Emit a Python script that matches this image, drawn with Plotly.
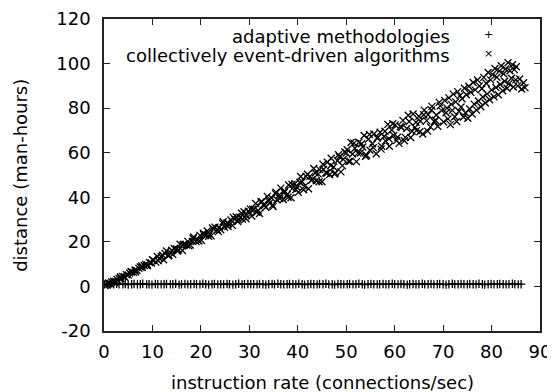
import plotly.graph_objects as go

# ---- series 1: "adaptive methodologies" (+ markers, flat near y=1)
adaptive_x = [
    0.1, 0.8, 1.3, 2.0, 2.6, 3.1, 3.9, 4.4, 5.0, 5.7,
    6.2, 6.9, 7.5, 8.0, 8.8, 9.3, 9.9, 10.6, 11.1, 11.8,
    12.4, 12.9, 13.7, 14.2, 14.8, 15.5, 16.0, 16.7, 17.3, 17.9,
    18.6, 19.1, 19.8, 20.4, 21.0, 21.6, 22.3, 22.8, 23.5, 24.1,
    24.7, 25.4, 25.9, 26.6, 27.2, 27.8, 28.5, 29.0, 29.7, 30.3,
    30.9, 31.6, 32.1, 32.8, 33.4, 34.0, 34.7, 35.2, 35.9, 36.5,
    37.1, 37.8, 38.3, 39.0, 39.6, 40.2, 40.9, 41.4, 42.1, 42.7,
    43.3, 44.0, 44.5, 45.2, 45.8, 46.4, 47.1, 47.6, 48.3, 48.9,
    49.5, 50.2, 50.7, 51.4, 52.0, 52.6, 53.3, 53.8, 54.5, 55.1,
    55.7, 56.4, 56.9, 57.6, 58.2, 58.8, 59.5, 60.0, 60.7, 61.3,
    61.9, 62.6, 63.1, 63.8, 64.4, 65.0, 65.7, 66.2, 66.9, 67.5,
    68.1, 68.8, 69.3, 70.0, 70.6, 71.2, 71.9, 72.4, 73.1, 73.7,
    74.3, 75.0, 75.5, 76.2, 76.8, 77.4, 78.1, 78.6, 79.3, 79.9,
    80.5, 81.2, 81.7, 82.4, 83.0, 83.6, 84.3, 84.8, 85.5, 86.1,
]
adaptive_y = [
    0.9, 1.1, 0.8, 1.0, 1.2, 0.9, 1.0, 1.1, 0.8, 1.0,
    1.1, 0.9, 1.0, 1.2, 0.9, 1.0, 0.8, 1.1, 1.0, 0.9,
    1.0, 1.1, 0.9, 1.0, 1.2, 0.8, 1.0, 1.1, 0.9, 1.0,
    1.1, 1.0, 0.9, 1.2, 1.0, 0.8, 1.0, 1.1, 0.9, 1.0,
    0.9, 1.1, 1.0, 0.8, 1.0, 1.2, 0.9, 1.0, 1.1, 1.0,
    1.0, 0.9, 1.1, 1.0, 0.8, 1.0, 1.1, 0.9, 1.2, 1.0,
    0.9, 1.0, 1.1, 1.0, 0.9, 1.2, 1.0, 0.8, 1.0, 1.1,
    1.0, 0.9, 1.1, 1.0, 1.2, 0.9, 1.0, 0.8, 1.1, 1.0,
    0.9, 1.0, 1.1, 0.9, 1.0, 1.2, 1.0, 0.8, 1.0, 1.1,
    1.0, 0.9, 1.0, 1.1, 0.9, 1.0, 1.2, 1.0, 0.9, 1.1,
    1.0, 0.8, 1.0, 1.1, 0.9, 1.0, 1.2, 0.9, 1.0, 1.1,
    0.9, 1.0, 1.1, 1.0, 0.8, 1.0, 1.2, 0.9, 1.0, 1.1,
    1.0, 0.9, 1.1, 1.0, 0.9, 1.2, 1.0, 0.8, 1.0, 1.1,
    0.9, 1.0, 1.1, 1.0, 0.9, 1.0, 1.2, 1.0, 0.9, 1.0,
]

# ---- series 2: "collectively event-driven algorithms" (x markers)
event_x = [
    # 0 - 10
    0.2, 0.5, 0.9, 1.3, 1.6, 2.0, 2.4, 2.7, 3.1, 3.5, 3.8, 4.2, 4.6, 5.0,
    5.3, 5.7, 6.1, 6.4, 6.8, 7.2, 7.5, 7.9, 8.3, 8.6, 9.0, 9.4, 9.8,
    # 10 - 30
    10.2, 10.7, 11.0, 11.5, 11.8, 12.3, 12.6, 12.9, 13.4, 13.7, 14.2, 14.5,
    15.0, 15.4, 15.7, 16.2, 16.5, 17.0, 17.3, 17.8, 18.2, 18.5, 19.0, 19.3,
    19.8, 20.1, 20.6, 21.0, 21.3, 21.8, 22.1, 22.6, 22.9, 23.4, 23.8, 24.1,
    24.6, 24.9, 25.4, 25.7, 26.2, 26.5, 27.0, 27.3, 27.8, 28.1, 28.6, 28.9,
    29.4, 29.8,
    1.0, 2.1, 3.4, 4.3, 5.6, 6.5, 7.8, 8.9, 10.0, 11.2, 12.1, 13.3, 14.0,
    15.2, 16.3, 17.5, 18.4, 19.6, 20.5, 21.6, 22.4, 23.6, 24.5, 25.6, 26.7,
    27.6, 28.4, 29.3,
    # 30 - 50
    30.2, 30.5, 31.0, 31.3, 31.8, 32.1, 32.6, 32.9, 33.4, 33.7, 34.2, 34.6,
    34.9, 35.4, 35.7, 36.2, 36.5, 37.0, 37.3, 37.8, 38.1, 38.6, 38.9, 39.4,
    39.8, 40.1, 40.6, 40.9, 41.4, 41.7, 42.2, 42.5, 43.0, 43.3, 43.8, 44.2,
    44.5, 45.0, 45.3, 45.8, 46.1, 46.6, 46.9, 47.4, 47.7, 48.2, 48.6, 48.9,
    49.4, 49.7,
    # 50 - 70
    50.2, 50.5, 51.0, 51.3, 51.8, 52.1, 52.6, 52.9, 53.4, 53.7, 54.2, 54.6,
    54.9, 55.4, 55.7, 56.2, 56.5, 57.0, 57.3, 57.8, 58.1, 58.6, 58.9, 59.4,
    59.8, 60.1, 60.6, 60.9, 61.4, 61.7, 62.2, 62.5, 63.0, 63.3, 63.8, 64.2,
    64.5, 65.0, 65.3, 65.8, 66.1, 66.6, 66.9, 67.4, 67.7, 68.2, 68.6, 68.9,
    69.4, 69.7,
    30.7, 31.5, 32.4, 33.1, 34.0, 34.8, 35.5, 36.3, 37.2, 38.0,
    38.8, 39.6, 40.4, 41.2, 42.0, 42.8, 43.6, 44.4, 45.2, 46.0,
    46.8, 47.6, 48.4, 49.2, 50.0, 50.8, 51.6, 52.4, 53.2, 54.0,
    54.8, 55.6, 56.4, 57.2, 58.0, 58.8, 59.6, 60.4, 61.2, 62.0,
    62.8, 63.6, 64.4, 65.2, 66.0, 66.8, 67.6, 68.4, 69.2,
    # 70 - 87 (upper part of the cloud)
    70.3, 70.8, 71.2, 71.7, 72.1, 72.6, 73.0, 73.5, 73.9, 74.4, 74.8, 75.3,
    75.7, 76.2, 76.6, 77.1, 77.5, 78.0, 78.4, 78.9, 79.3, 79.8, 80.2, 80.7,
    81.1, 81.6, 82.0, 82.5, 82.9, 83.4, 83.8, 84.3, 84.7, 85.1,
    # 70 - 87 (lower part of the cloud)
    70.1, 70.6, 71.0, 71.5, 71.9, 72.4, 72.8, 73.3, 73.7, 74.2, 74.6, 75.1,
    75.5, 76.0, 76.4, 76.9, 77.3, 77.8, 78.2, 78.7, 79.1, 79.6, 80.0, 80.5,
    80.9, 81.4, 81.8, 82.3, 82.7, 83.2, 83.6, 84.1, 84.5, 85.0, 85.4, 85.8,
    86.2, 86.6, 86.9,
]
event_y = [
    # 0 - 10
    0.4, 0.9, 1.2, 1.1, 2.0, 2.3, 2.2, 3.1, 3.6, 3.4, 4.5, 4.4, 5.3, 5.1,
    6.0, 6.5, 6.3, 7.4, 7.2, 8.1, 8.7, 8.5, 9.4, 9.9, 9.6, 10.7, 10.5,
    # 10 - 30
    11.8, 10.9, 13.4, 12.5, 13.4, 12.0, 14.8, 15.9, 14.0, 15.2, 14.4, 17.0,
    16.8, 16.4, 18.9, 16.1, 18.9, 18.6, 20.2, 18.6, 20.2, 22.2, 20.1, 20.9,
    22.9, 20.7, 23.2, 23.1, 24.9, 23.4, 22.7, 25.7, 26.6, 25.3, 26.5, 25.4,
    29.0, 26.5, 28.5, 28.1, 29.8, 27.4, 30.1, 31.3, 29.9, 31.0, 30.2, 33.5,
    31.8, 33.7,
    1.6, 1.7, 4.2, 4.1, 6.7, 6.6, 9.2, 9.3, 11.9, 11.5, 14.0, 13.8, 16.2,
    15.9, 18.6, 18.2, 21.5, 20.4, 23.9, 22.5, 26.2, 24.6, 28.3, 26.9, 31.0,
    29.1, 32.8, 30.4,
    # 30 - 50
    34.7, 31.6, 34.6, 37.2, 34.1, 32.7, 38.0, 36.7, 35.5, 40.4, 37.5, 39.7,
    35.8, 41.7, 38.9, 41.1, 44.1, 39.0, 42.8, 41.1, 45.5, 39.8, 44.0, 46.1,
    44.6, 42.2, 49.3, 47.0, 44.9, 49.4, 43.8, 49.4, 48.0, 52.9, 47.4, 50.5,
    52.4, 47.0, 52.5, 51.0, 55.7, 50.2, 57.5, 53.6, 50.9, 56.4, 58.2, 51.4,
    57.1, 60.3,
    # 50 - 70
    61.3, 56.1, 64.6, 59.4, 62.0, 56.0, 64.7, 59.9, 62.6, 67.7, 58.9, 66.1,
    61.1, 64.0, 68.4, 59.5, 67.0, 69.2, 62.9, 67.3, 65.3, 72.7, 62.9, 70.2,
    67.7, 72.5, 67.0, 64.2, 71.3, 74.5, 66.9, 70.9, 74.0, 66.8, 77.4, 71.3,
    69.9, 76.4, 74.1, 68.4, 79.1, 74.4, 77.0, 71.6, 80.8, 73.9, 76.9, 71.9,
    81.0, 78.9,
    34.6, 33.3, 38.0, 36.3, 38.8, 36.5, 42.3, 39.4, 42.1, 40.0,
    45.8, 43.5, 46.7, 43.4, 50.3, 47.6, 50.9, 47.0, 54.8, 50.8,
    54.3, 50.4, 59.1, 54.2, 59.9, 56.2, 64.3, 59.8, 64.0, 58.4,
    68.2, 62.3, 66.5, 61.6, 69.6, 66.3, 73.0, 65.5, 71.8, 65.4,
    76.8, 69.6, 73.7, 69.4, 77.0, 69.7, 79.2, 74.6, 82.6,
    # 70 - 87 (upper)
    83.5, 80.1, 84.6, 81.7, 86.3, 82.8, 87.4, 85.6, 84.2, 88.9, 86.0, 89.8,
    87.1, 91.5, 88.2, 92.6, 90.0, 88.7, 93.8, 91.2, 96.0, 92.7, 95.1, 97.8,
    93.9, 96.6, 99.0, 95.4, 97.6, 100.4, 96.8, 99.5, 97.3, 98.6,
    # 70 - 87 (lower)
    73.8, 77.9, 75.2, 72.6, 79.0, 76.1, 74.0, 78.6, 80.5, 76.0, 77.9, 75.5,
    79.6, 77.4, 81.8, 79.1, 83.2, 80.6, 85.0, 82.3, 86.4, 83.8, 88.2, 85.1,
    89.3, 86.0, 90.6, 87.8, 92.1, 88.9, 91.0, 93.4, 89.5, 92.7, 90.0, 93.1,
    88.6, 91.4, 89.2,
]

series_names = ["adaptive methodologies", "collectively event-driven algorithms"]
x_ticks = [0, 10, 20, 30, 40, 50, 60, 70, 80, 90]
x_tick_text = ["0", "10", "20", "30", "40", "50", "60", "70", "80", "90"]
y_ticks = [-20, 0, 20, 40, 60, 80, 100, 120]
y_tick_text = ["-20", "0", "20", "40", "60", "80", "100", "120"]
x_title = "instruction rate (connections/sec)"
y_title = "distance (man-hours)"

FONT = "DejaVu Sans"
FS = 18
INK = "#000000"
AXC = "#222222"

fig = go.Figure()
fig.add_trace(go.Scatter(
    x=adaptive_x, y=adaptive_y, mode="markers", name=series_names[0],
    marker=dict(symbol="cross-thin", size=6, line=dict(width=1.3, color=INK), color=INK),
    showlegend=False,
))
fig.add_trace(go.Scatter(
    x=event_x, y=event_y, mode="markers", name=series_names[1],
    marker=dict(symbol="x-thin", size=7, line=dict(width=1.3, color=INK), color=INK),
    showlegend=False,
))

axis_common = dict(
    showgrid=False, zeroline=False, showline=True, linecolor=AXC, linewidth=1.5,
    mirror="ticks", ticks="inside", ticklen=6, tickwidth=1, tickcolor=AXC,
    tickfont=dict(family=FONT, size=FS, color=INK), automargin=False,
)
fig.update_xaxes(range=[0, 90], tickvals=x_ticks, ticktext=x_tick_text,
                 ticklabelstandoff=4, **axis_common)
fig.update_yaxes(range=[-20, 120], tickvals=y_ticks, ticktext=y_tick_text,
                 ticklabelstandoff=8, **axis_common)

annots = [
    dict(text=x_title, xref="paper", yref="paper", x=0.5, y=-0.165,
         xanchor="center", yanchor="middle", showarrow=False,
         font=dict(family=FONT, size=FS, color=INK)),
    dict(text=y_title, xref="paper", yref="paper", x=-0.193, y=0.5,
         xanchor="center", yanchor="middle", textangle=-90, showarrow=False,
         font=dict(family=FONT, size=FS, color=INK)),
    dict(text=series_names[0], xref="paper", yref="paper", x=0.799, y=0.945,
         xanchor="right", yanchor="middle", showarrow=False,
         font=dict(family=FONT, size=FS, color=INK)),
    dict(text=series_names[1], xref="paper", yref="paper", x=0.799, y=0.884,
         xanchor="right", yanchor="middle", showarrow=False,
         font=dict(family=FONT, size=FS, color=INK)),
    dict(text="+", xref="paper", yref="paper", x=0.883, y=0.949,
         xanchor="center", yanchor="middle", showarrow=False,
         font=dict(family=FONT, size=11, color=INK)),
    dict(text="×", xref="paper", yref="paper", x=0.883, y=0.888,
         xanchor="center", yanchor="middle", showarrow=False,
         font=dict(family=FONT, size=11, color=INK)),
]

# page body has an 8px default margin, so the figure is sized to fit the window
fig.update_layout(
    width=547, height=384,
    margin=dict(l=96, r=14.5, t=11, b=61),
    paper_bgcolor="white", plot_bgcolor="white",
    showlegend=False,
    annotations=annots,
)

fig.write_html("out.html")
